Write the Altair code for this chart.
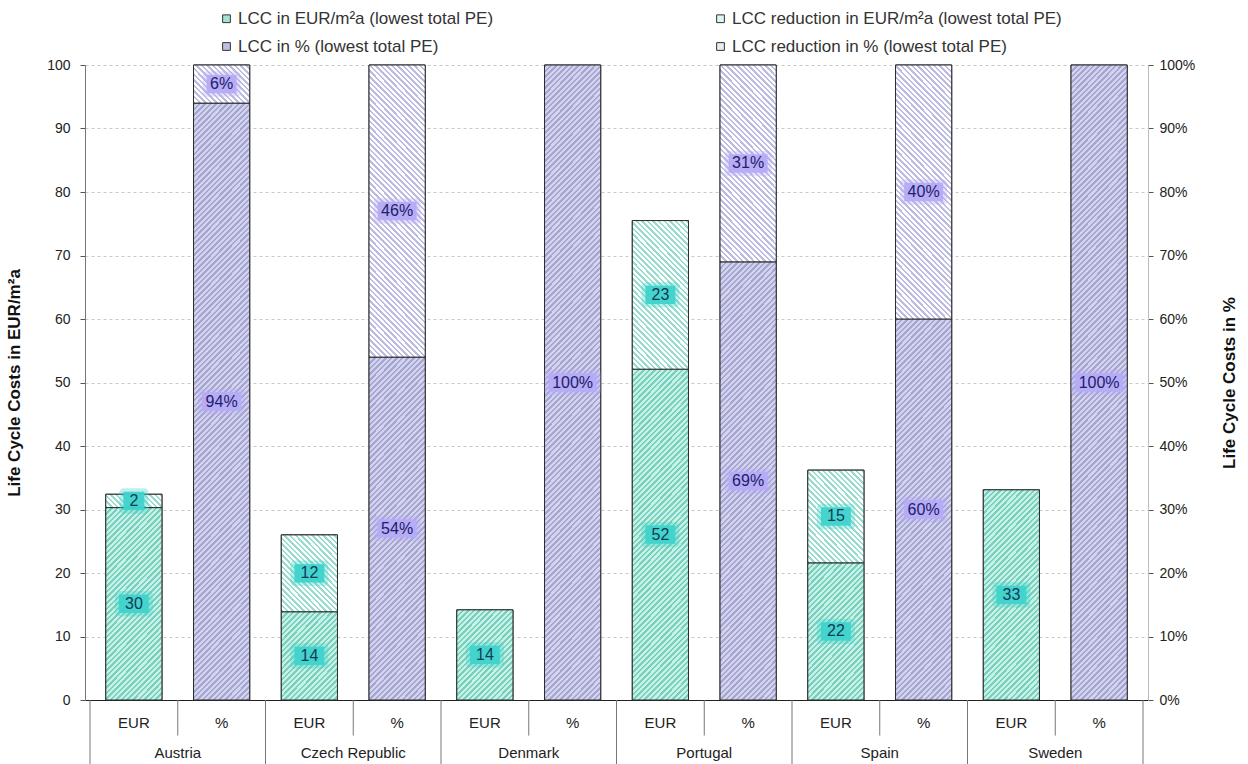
import altair as alt
import pandas as pd

# ---- data -------------------------------------------------------------
countries = ["Austria", "Czech Republic", "Denmark", "Portugal", "Spain", "Sweden"]
eur_lcc = [30.3, 13.9, 14.2, 52.1, 21.6, 33.1]          # LCC in EUR/m²a
eur_reduction = [2.1, 12.1, 0.0, 23.4, 14.6, 0.0]      # LCC reduction in EUR/m²a
pct_lcc = [94, 54, 100, 69, 60, 100]                   # LCC in %
pct_reduction = [6, 46, 0, 31, 40, 0]                  # LCC reduction in %
column_kinds = ["EUR", "%"]
series_eur = "LCC in EUR/m²a (lowest total PE)"
series_pct = "LCC in % (lowest total PE)"
series_eur_red = "LCC reduction in EUR/m²a (lowest total PE)"
series_pct_red = "LCC reduction in % (lowest total PE)"
legend_order = [series_eur, series_pct, series_eur_red, series_pct_red]
y_ticks = list(range(0, 101, 10))

# ---- geometry / style ------------------------------------------------
PAD_L, PAD_T = 85, 65
PLOT_W, PLOT_H = 1063, 635
N_COLS = 2 * len(countries)
BAR_FRAC = 0.64
bar_px = BAR_FRAC * PLOT_W / N_COLS
px_per_unit = PLOT_H / 100.0
FONT = "Liberation Sans"
STROKE = "#2b2b2b"

# background / stripe colours for each series
hatch_colors = {
    series_eur: ("#c6f1e6", "#78cfbd"),
    series_eur_red: ("#ffffff", "#98dccd"),
    series_pct: ("#d3d3ee", "#a5a5d2"),
    series_pct_red: ("#ffffff", "#bcbce2"),
}
legend_colors = ["#a5e2d5", "#bfbfe4", "#e2f6f1", "#ebebf7"]


def hatch_fill(w, h, bg, fg, rising=True, period=5.6, duty=0.45):
    """Diagonal stripes as a hard-stop linear gradient (bbox units)."""
    span = w + h
    s = span / (w * w + h * h)
    if rising:
        x1, y1, x2, y2 = 0.0, 0.0, w * s, h * s
    else:
        x1, y1, x2, y2 = 0.0, 1.0, w * s, 1.0 - h * s
    stops = []
    pos = 0.0
    while pos < span:
        a = pos / span
        b = min((pos + period * duty) / span, 1.0)
        c = min((pos + period) / span, 1.0)
        stops += [
            {"offset": round(a, 5), "color": fg},
            {"offset": round(b, 5), "color": fg},
            {"offset": round(b, 5), "color": bg},
            {"offset": round(c, 5), "color": bg},
        ]
        pos += period
    return {"gradient": "linear", "x1": x1, "y1": y1, "x2": x2, "y2": y2, "stops": stops}


rows = []
for i, country in enumerate(countries):
    pairs = [
        (eur_lcc[i], eur_reduction[i], series_eur, series_eur_red),
        (pct_lcc[i], pct_reduction[i], series_pct, series_pct_red),
    ]
    for j, (base_v, red_v, s_base, s_red) in enumerate(pairs):
        col = 2 * i + j
        rows.append(dict(country=country, col=col, kind=column_kinds[j], part="base",
                         series=s_base, start=0.0, end=base_v, value=base_v))
        if red_v > 0:
            rows.append(dict(country=country, col=col, kind=column_kinds[j], part="reduction",
                             series=s_red, start=base_v, end=base_v + red_v, value=red_v))
for k, r in enumerate(rows):
    r["key"] = k
bars = pd.DataFrame(rows)

x_scale = alt.Scale(domain=[0, N_COLS], nice=False, zero=False)
y_scale = alt.Scale(domain=[0, 100], nice=False, zero=False)
lo_off = (1 - BAR_FRAC) / 2
hi_off = 1 - lo_off

x_axis = alt.Axis(title=None, labels=False, ticks=False, grid=False, domain=True,
                  domainColor="#222222", domainWidth=1)
y_axis_left = alt.Axis(
    title="Life Cycle Costs in EUR/m²a", values=y_ticks, grid=True, gridDash=[3, 3],
    gridColor="#c8c8c8", tickSize=5, tickColor="#555555", domainColor="#777777",
    labelFontSize=14, labelColor="#222222", labelPadding=10, titleFontSize=17,
    titleFontWeight="bold", titleColor="#111111", titlePadding=23,
)


def X(field):
    return alt.X(field, scale=x_scale, axis=x_axis)


def Y(field):
    return alt.Y(field, scale=y_scale, axis=y_axis_left)


bar_src = alt.Chart(bars).transform_calculate(
    x0=f"datum.col + {lo_off}", x1=f"datum.col + {hi_off}"
)

# solid bars underneath (also feed the legend)
base = bar_src.mark_rect(stroke=STROKE, strokeWidth=1).encode(
    x=X("x0:Q"),
    x2="x1:Q",
    y=Y("start:Q"),
    y2="end:Q",
    color=alt.Color(
        "series:N",
        scale=alt.Scale(domain=legend_order, range=legend_colors),
        legend=alt.Legend(
            title=None, orient="none", legendX=133, legendY=-55, columns=2,
            columnPadding=218, rowPadding=10, symbolType="square", symbolSize=60,
            symbolStrokeColor="#333333", symbolStrokeWidth=1, labelFontSize=17,
            labelColor="#333333", labelFont=FONT, labelLimit=400, labelOffset=3,
        ),
    ),
)

# hatched overlay, one gradient per segment
hatched = []
for r in rows:
    h_px = (r["end"] - r["start"]) * px_per_unit
    bg, fg = hatch_colors[r["series"]]
    grad = hatch_fill(bar_px, h_px, bg, fg, rising=(r["part"] == "base"))
    hatched.append(
        bar_src.transform_filter(alt.datum.key == r["key"])
        .mark_rect(fill=grad, stroke=STROKE, strokeWidth=1)
        .encode(x=X("x0:Q"), x2="x1:Q", y=Y("start:Q"), y2="end:Q")
    )

# value labels on boxes
label_src = alt.Chart(bars).transform_calculate(
    xc="datum.col + 0.5",
    mid="(datum.start + datum.end) / 2",
    txt="format(datum.value, '.0f') + (datum.kind == '%' ? '%' : '')",
).transform_calculate(
    lo="datum.mid - 1.45",
    hi="datum.mid + 1.45",
    glo="datum.mid - 2.0",
    ghi="datum.mid + 2.0",
    boxw="length(datum.txt) * 9 + 12",
).transform_calculate(glow_w="datum.boxw + 8")

is_eur = alt.datum.kind == "EUR"
glow = label_src.mark_bar(opacity=0.35, cornerRadius=4).encode(
    x=X("xc:Q"),
    y=Y("glo:Q"),
    y2="ghi:Q",
    size=alt.Size("glow_w:Q", scale=None, legend=None),
    fill=alt.condition(is_eur, alt.value("#3fd3cc"), alt.value("#b6abf5")),
)
boxes = label_src.mark_bar(opacity=0.95).encode(
    x=X("xc:Q"),
    y=Y("lo:Q"),
    y2="hi:Q",
    size=alt.Size("boxw:Q", scale=None, legend=None),
    fill=alt.condition(is_eur, alt.value("#3fd3cc"), alt.value("#b6abf5")),
)
texts = label_src.mark_text(font=FONT, fontSize=16, baseline="middle", align="center").encode(
    x=X("xc:Q"),
    y=Y("mid:Q"),
    text="txt:N",
    fill=alt.condition(is_eur, alt.value("#143a58"), alt.value("#20206a")),
)

# category rows under the axis
cols_df = pd.DataFrame({
    "col": list(range(N_COLS)),
    "kind": [column_kinds[c % 2] for c in range(N_COLS)],
})
kind_text = alt.Chart(cols_df).transform_calculate(xc="datum.col + 0.5", yy="-3.6").mark_text(
    font=FONT, fontSize=15, color="#222222", baseline="middle"
).encode(x=X("xc:Q"), y=Y("yy:Q"), text="kind:N")

country_df = pd.DataFrame({"idx": list(range(len(countries))), "country": countries})
country_text = alt.Chart(country_df).transform_calculate(xc="datum.idx * 2 + 1", yy="-8.3").mark_text(
    font=FONT, fontSize=15, color="#222222", baseline="middle"
).encode(x=X("xc:Q"), y=Y("yy:Q"), text="country:N")

sep_df = pd.DataFrame({"pos": list(range(N_COLS + 1))})
separators = alt.Chart(sep_df).transform_calculate(
    y0="0", y1="datum.pos % 2 == 0 ? -10.2 : -5.6"
).mark_rule(color="#777777", strokeWidth=1).encode(x=X("pos:Q"), y=Y("y0:Q"), y2="y1:Q")

main = alt.layer(base, *hatched, glow, boxes, texts, separators, kind_text, country_text)

# secondary percentage axis on the right
right = alt.Chart(pd.DataFrame({"tick": y_ticks})).mark_rule(opacity=0).encode(
    y=alt.Y("tick:Q", scale=y_scale, axis=alt.Axis(
        orient="right", values=y_ticks, labelExpr="datum.value + '%'", grid=False,
        title="Life Cycle Costs in %", titleAngle=270, tickSize=5, tickColor="#555555",
        domainColor="#bbbbbb", labelFontSize=14, labelColor="#222222", labelPadding=6,
        titleFontSize=17, titleFontWeight="bold", titleColor="#111111", titlePadding=44,
    ))
)

chart = alt.layer(main, right).resolve_scale(y="independent").properties(
    width=PLOT_W, height=PLOT_H,
    padding={"left": PAD_L, "top": PAD_T, "right": 1248 - PAD_L - PLOT_W,
             "bottom": 764 - PAD_T - PLOT_H},
    autosize=alt.AutoSizeParams(type="none"),
    background="white",
).configure_view(stroke=None).configure_axis(labelFont=FONT, titleFont=FONT).configure_text(font=FONT)

chart.save("out.html", embed_options={"renderer": "svg", "actions": False})
